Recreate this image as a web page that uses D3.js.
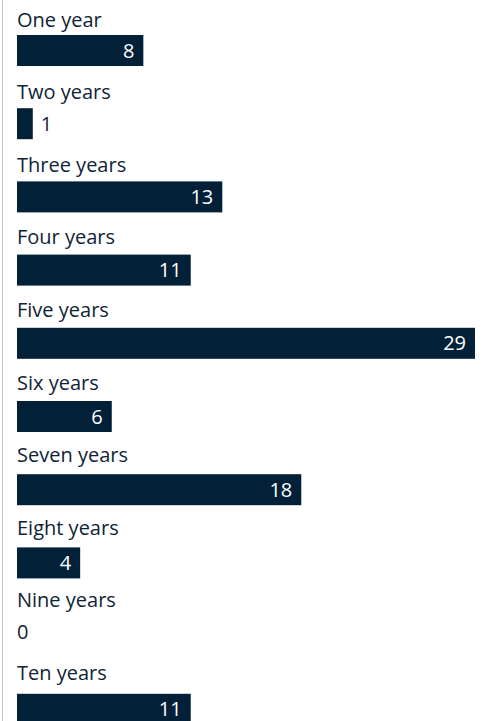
<!DOCTYPE html>
<html>
<head>
<meta charset="utf-8">
<script src="https://cdn.jsdelivr.net/npm/d3@7"></script>
<style>
  body { margin: 0; background: #fff; }
  svg { display: block; }
</style>
</head>
<body>
<div id="chart-area"></div>
<script>
// data
const categories = ['One year', 'Two years', 'Three years', 'Four years', 'Five years',
  'Six years', 'Seven years', 'Eight years', 'Nine years', 'Ten years'];
const values = [8, 1, 13, 11, 29, 6, 18, 4, 0, 11];

const W = 486, H = 721;
const margin = {left: 17, right: 11};
const rowPitch = 73.2;
const barTop = 35, barH = 31;
const font = '"Open Sans", sans-serif';
const textColor = '#0f2436';

const svg = d3.select('#chart-area')
  .append('svg')
  .attr('width', W)
  .attr('height', H);

// left border line
svg.append('line')
  .attr('x1', 2.5).attr('x2', 2.5)
  .attr('y1', 0).attr('y2', H)
  .attr('stroke', '#c4c4c4')
  .attr('stroke-width', 1);

const x = d3.scaleLinear()
  .domain([0, 29])
  .range([margin.left, W - margin.right]);

const y = d3.scaleBand()
  .domain(categories)
  .range([0, rowPitch * categories.length])
  .padding(0);

const rows = svg.selectAll('g.row')
  .data(categories.map((c, i) => ({cat: c, val: values[i], i: i})))
  .enter()
  .append('g')
  .attr('class', 'row')
  .attr('transform', d => `translate(0, ${y(d.cat)})`);

// category label (labels sit a touch tighter than the bars)
rows.append('text')
  .attr('x', margin.left)
  .attr('y', d => 26.5 - d.i * 0.6)
  .attr('font-family', font)
  .attr('font-size', '20px')
  .attr('fill', textColor)
  .text(d => d.cat);

// bar
rows.append('rect')
  .attr('x', x(0))
  .attr('y', barTop)
  .attr('width', d => x(d.val) - x(0))
  .attr('height', barH)
  .attr('fill', '#022037');

const inside = d => x(d.val) - x(0) > 40;

// value label
rows.append('text')
  .attr('x', d => {
    if (d.val === 0) return x(0);
    return inside(d) ? x(d.val) - 9 : x(d.val) + 8;
  })
  .attr('y', d => (d.val === 0 ? barTop + barH / 2 - 4 : barTop + barH / 2))
  .attr('dy', '0.36em')
  .attr('text-anchor', d => (inside(d) ? 'end' : 'start'))
  .attr('font-family', font)
  .attr('font-size', '20px')
  .attr('fill', d => (inside(d) ? '#ffffff' : textColor))
  .text(d => d.val);
</script>
</body>
</html>
